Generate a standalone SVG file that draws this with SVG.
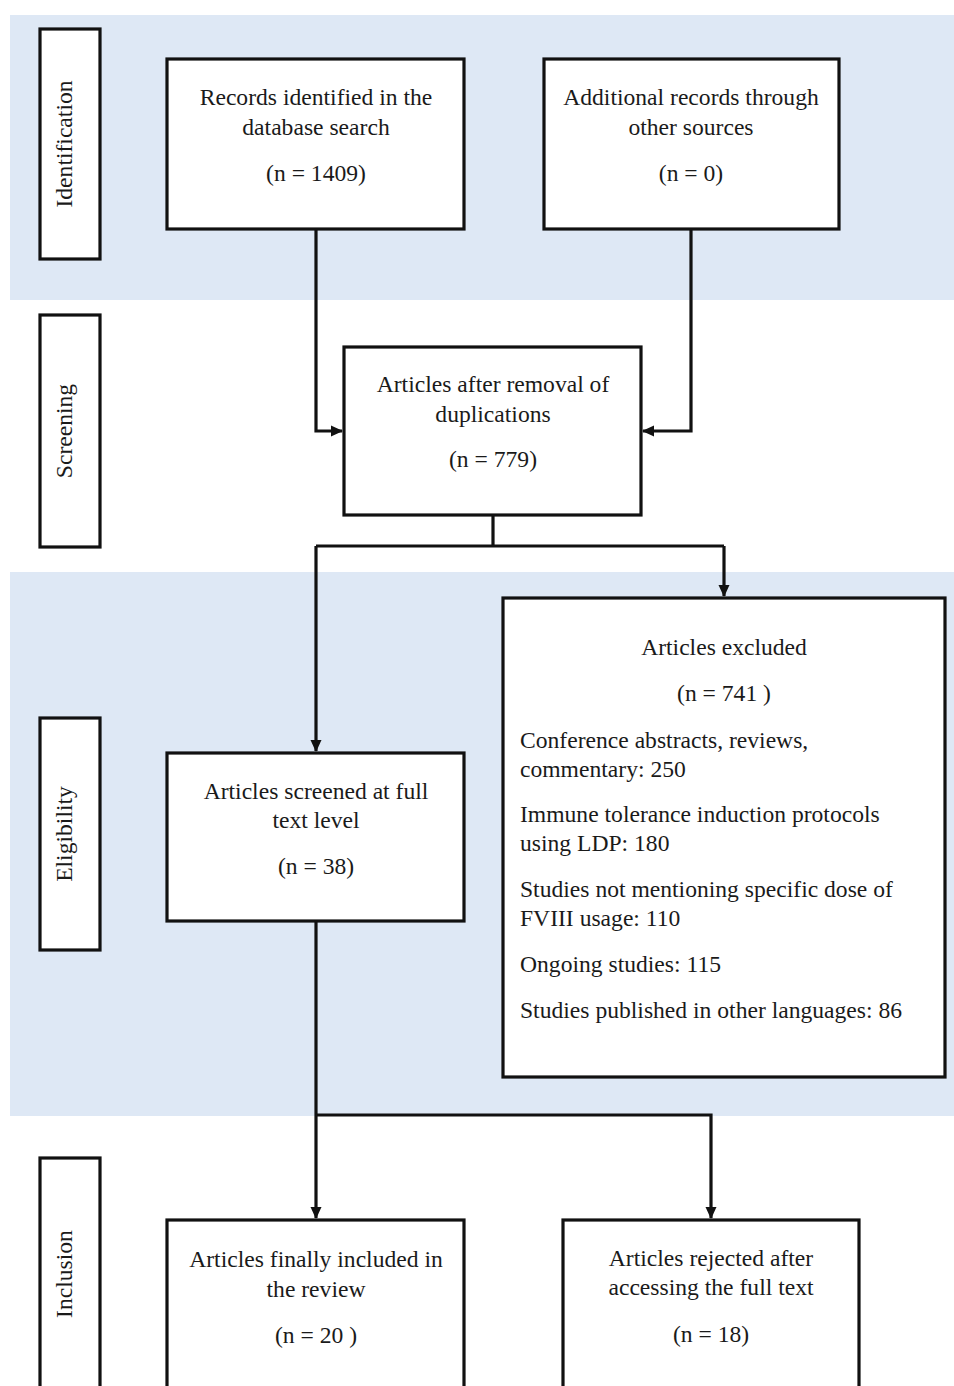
<svg xmlns="http://www.w3.org/2000/svg" width="954" height="1386" viewBox="0 0 954 1386">
<style>
.band{fill:#dee8f5}
.box{fill:#fff;stroke:#111;stroke-width:3.2}
.t{font-family:"Liberation Serif","Times New Roman",Times,serif;font-size:23.6px;fill:#1a1a1a}
.c{text-anchor:middle}
.side{font-family:"Liberation Serif","Times New Roman",Times,serif;font-size:23.6px;fill:#1a1a1a;text-anchor:middle}
.ln{fill:none;stroke:#111;stroke-width:3.2}
</style>
<defs>
<marker id="ah" markerWidth="12" markerHeight="12" refX="11" refY="6" orient="auto" markerUnits="userSpaceOnUse">
<path d="M0,0.5 L12,6 L0,11.5 z" fill="#111"/>
</marker>
</defs>
<rect width="954" height="1386" fill="#fff"/>
<rect class="band" x="10" y="15" width="944" height="285"/>
<rect class="band" x="10" y="572" width="944" height="544"/>

<g id="side-identification">
<rect class="box" x="40" y="29" width="60" height="230"/>
<text class="side" transform="translate(72,144) rotate(-90)">Identification</text>
</g>
<g id="side-screening">
<rect class="box" x="40" y="315" width="60" height="232"/>
<text class="side" transform="translate(72,431) rotate(-90)">Screening</text>
</g>
<g id="side-eligibility">
<rect class="box" x="40" y="718" width="60" height="232"/>
<text class="side" transform="translate(72,834) rotate(-90)">Eligibility</text>
</g>
<g id="side-inclusion">
<rect class="box" x="40" y="1158" width="60" height="240"/>
<text class="side" transform="translate(72,1274) rotate(-90)">Inclusion</text>
</g>

<g id="connectors">
<path class="ln" d="M316,229 V431 H342" marker-end="url(#ah)"/>
<path class="ln" d="M691,229 V431 H643" marker-end="url(#ah)"/>
<path class="ln" d="M493,515 V546"/>
<path class="ln" d="M316,546 H724"/>
<path class="ln" d="M316,546 V751" marker-end="url(#ah)"/>
<path class="ln" d="M724,546 V596" marker-end="url(#ah)"/>
<path class="ln" d="M316,921 V1218" marker-end="url(#ah)"/>
<path class="ln" d="M316,1115 H711 V1218" marker-end="url(#ah)"/>
</g>

<g id="records">
<rect class="box" x="167" y="59" width="297" height="170"/>
<text class="t c" x="316" y="105">Records identified in the</text>
<text class="t c" x="316" y="135">database search</text>
<text class="t c" x="316" y="181">(n = 1409)</text>
</g>
<g id="additional">
<rect class="box" x="544" y="59" width="295" height="170"/>
<text class="t c" x="691" y="105">Additional records through</text>
<text class="t c" x="691" y="135">other sources</text>
<text class="t c" x="691" y="181">(n = 0)</text>
</g>
<g id="deduplicated">
<rect class="box" x="344" y="347" width="297" height="168"/>
<text class="t c" x="493" y="392">Articles after removal of</text>
<text class="t c" x="493" y="422">duplications</text>
<text class="t c" x="493" y="467">(n = 779)</text>
</g>
<g id="excluded">
<rect class="box" x="503" y="598" width="442" height="479"/>
<text class="t c" x="724" y="655">Articles excluded</text>
<text class="t c" x="724" y="701">(n = 741 )</text>
<text class="t" x="520" y="748">Conference abstracts, reviews,</text>
<text class="t" x="520" y="777">commentary: 250</text>
<text class="t" x="520" y="822">Immune tolerance induction protocols</text>
<text class="t" x="520" y="851">using LDP: 180</text>
<text class="t" x="520" y="897">Studies not mentioning specific dose of</text>
<text class="t" x="520" y="926">FVIII usage: 110</text>
<text class="t" x="520" y="972">Ongoing studies: 115</text>
<text class="t" x="520" y="1018">Studies published in other languages: 86</text>
</g>
<g id="fulltext">
<rect class="box" x="167" y="753" width="297" height="168"/>
<text class="t c" x="316" y="799">Articles screened at full</text>
<text class="t c" x="316" y="828">text level</text>
<text class="t c" x="316" y="874">(n = 38)</text>
</g>
<g id="included">
<rect class="box" x="167" y="1220" width="297" height="180"/>
<text class="t c" x="316" y="1267">Articles finally included in</text>
<text class="t c" x="316" y="1297">the review</text>
<text class="t c" x="316" y="1343">(n = 20 )</text>
</g>
<g id="rejected">
<rect class="box" x="563" y="1220" width="296" height="180"/>
<text class="t c" x="711" y="1266">Articles rejected after</text>
<text class="t c" x="711" y="1295">accessing the full text</text>
<text class="t c" x="711" y="1342">(n = 18)</text>
</g>
</svg>
